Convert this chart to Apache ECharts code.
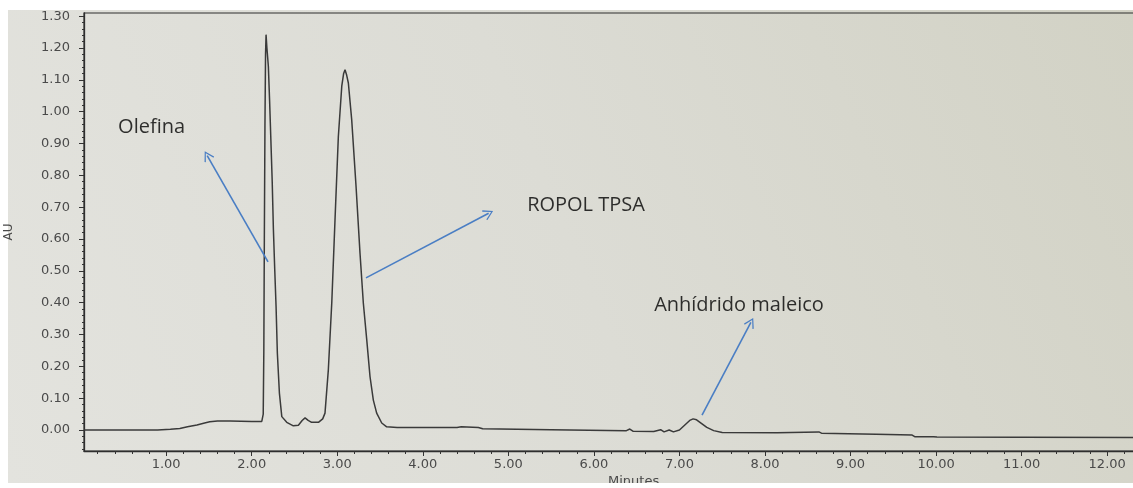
<!DOCTYPE html>
<html>
<head>
<meta charset="utf-8">
<script src="https://cdn.jsdelivr.net/npm/echarts@6/dist/echarts.min.js"></script>
<style>
  html, body { margin: 0; padding: 0; background: #fff; }
  #chart { width: 1133px; height: 488px; }
</style>
</head>
<body>
<div id="chart"></div>
<script>
// retention time (min) and detector response (AU)
const timeMin = [
  0.04, 0.6, 0.9, 1.05, 1.16, 1.25, 1.36, 1.45, 1.51, 1.6, 1.75, 2.0, 2.118,
  2.135, 2.142, 2.148, 2.155, 2.162, 2.168, 2.178, 2.195, 2.21, 2.223, 2.24,
  2.254, 2.27, 2.285, 2.30, 2.324, 2.352, 2.41, 2.487, 2.546, 2.59, 2.624,
  2.66, 2.70, 2.78, 2.83, 2.857, 2.896, 2.936, 2.974, 3.013, 3.053, 3.075,
  3.091, 3.11, 3.13, 3.169, 3.22, 3.266, 3.305, 3.345, 3.383, 3.422, 3.461,
  3.52, 3.578, 3.7, 4.4, 4.45, 4.65, 4.7, 5.5, 6.38, 6.42, 6.46, 6.7, 6.78,
  6.82, 6.88, 6.93, 7.0, 7.06, 7.12, 7.16, 7.2, 7.26, 7.32, 7.4, 7.5, 8.14,
  8.16, 8.63, 8.66, 9.3, 9.72, 9.75, 9.97, 9.99, 10.01, 11.0, 12.36
];
const absorbance = [
  0.000, 0.000, 0.000, 0.002, 0.005, 0.010, 0.016, 0.022, 0.026, 0.028, 0.028, 0.027, 0.027,
  0.050, 0.250, 0.600, 0.950, 1.180, 1.242, 1.200, 1.142, 1.030, 0.922, 0.780,
  0.629, 0.500, 0.388, 0.242, 0.116, 0.042, 0.024, 0.013, 0.015, 0.030, 0.038,
  0.030, 0.024, 0.024, 0.035, 0.053, 0.189, 0.399, 0.660, 0.922, 1.080, 1.120,
  1.132, 1.115, 1.090, 0.975, 0.765, 0.556, 0.399, 0.283, 0.168, 0.094, 0.053,
  0.022, 0.010, 0.008, 0.008, 0.010, 0.008, 0.004, 0.001, -0.002, 0.003, -0.004, -0.005, 0.001,
  -0.006, 0.000, -0.006, 0.000, 0.015, 0.030, 0.035, 0.032, 0.020, 0.008, -0.002, -0.008, -0.009,
  -0.005, -0.006, -0.010, -0.013, -0.016, -0.021, -0.021, -0.015, -0.022, -0.023, -0.024
];

// axis ticks
const xTicks = [1, 2, 3, 4, 5, 6, 7, 8, 9, 10, 11, 12];
const yTicks = [0, 0.1, 0.2, 0.3, 0.4, 0.5, 0.6, 0.7, 0.8, 0.9, 1.0, 1.1, 1.2, 1.3];

// peak annotations: label, text position, arrow start, arrow tip
const noteNames = ['Olefina', 'ROPOL TPSA', 'Anhídrido maleico'];
const notePos = [[0.83, 0.952], [5.908, 0.705], [7.696, 0.391]];
const arrowFrom = [[2.191, 0.528], [3.336, 0.478], [7.264, 0.047]];
const arrowTo = [[1.48, 0.862], [4.77, 0.681], [7.835, 0.338]];

const xMin = 0.04, xMax = 12.36;
const yMin = -0.066, yMax = 1.31;

const xMinor = [];
for (let i = 1; i <= 61; i++) xMinor.push(+(i * 0.2).toFixed(1));
const yMinor = [];
for (let i = -3; i <= 65; i++) yMinor.push(+(i * 0.02).toFixed(2));

const chart = echarts.init(document.getElementById('chart'));

const labelFont = { color: '#4a4a4a', fontSize: 13, fontFamily: 'DejaVu Sans' };
const arrowHead = 'path://M0,10 L5,0 L10,10 L9,10.8 L5,2.4 L1,10.8 Z';

const option = {
  animation: false,
  backgroundColor: '#ffffff',
  graphic: [
    {
      type: 'rect', z: -10, silent: true,
      shape: { x: 8, y: 10, width: 1125, height: 473 },
      style: {
        fill: new echarts.graphic.LinearGradient(0, 1, 1, 0, [
          { offset: 0, color: '#e3e3de' },
          { offset: 0.5, color: '#dcdcd5' },
          { offset: 1, color: '#d2d2c5' }
        ])
      }
    },
    {
      type: 'text', z: 50, left: 608, top: 475,
      style: { text: 'Minutes', fill: '#4a4a4a', fontSize: 13, fontFamily: 'DejaVu Sans' }
    },
    {
      type: 'rect', z: 100, silent: true,
      shape: { x: 0, y: 483, width: 1133, height: 5 },
      style: { fill: '#ffffff' }
    }
  ],
  grid: {
    left: 84, right: -5, top: 13, bottom: 37,
    outerBoundsMode: 'none',
    show: true, borderColor: '#2e2e2e', borderWidth: 1.2,
    backgroundColor: 'transparent'
  },
  xAxis: [
    {
      type: 'value', min: xMin, max: xMax, position: 'bottom',
      axisLine: { show: true, onZero: false, lineStyle: { color: '#2e2e2e', width: 1.3 } },
      axisTick: { show: true, customValues: xTicks, length: 5, lineStyle: { color: '#333' } },
      axisLabel: {
        customValues: xTicks, margin: 7,
        formatter: v => v.toFixed(2), ...labelFont
      },
      splitLine: { show: false }
    },
    {
      type: 'value', min: xMin, max: xMax, position: 'bottom',
      axisLine: { show: false, onZero: false },
      axisTick: { show: true, customValues: xMinor, length: 3, lineStyle: { color: '#333' } },
      axisLabel: { show: false },
      splitLine: { show: false }
    }
  ],
  yAxis: [
    {
      type: 'value', min: yMin, max: yMax, position: 'left',
      name: 'AU', nameLocation: 'middle', nameGap: 69,
      nameTextStyle: { color: '#4a4a4a', fontSize: 12, fontFamily: 'DejaVu Sans' },
      axisLine: { show: true, onZero: false, lineStyle: { color: '#2e2e2e', width: 1.3 } },
      axisTick: { show: true, customValues: yTicks, length: 5, lineStyle: { color: '#333' } },
      axisLabel: {
        customValues: yTicks, margin: 14,
        formatter: v => v.toFixed(2), ...labelFont
      },
      splitLine: { show: false }
    },
    {
      type: 'value', min: yMin, max: yMax, position: 'left',
      axisLine: { show: false, onZero: false },
      axisTick: { show: true, customValues: yMinor, length: 2, lineStyle: { color: '#333' } },
      axisLabel: { show: false },
      splitLine: { show: false }
    }
  ],
  series: [
    {
      name: 'AU',
      type: 'line',
      data: timeMin.map((t, i) => [t, absorbance[i]]),
      showSymbol: false,
      lineStyle: { color: '#3a3a3a', width: 1.5 },
      silent: true,
      markLine: {
        silent: true,
        symbol: ['none', arrowHead],
        symbolSize: [11, 10],
        label: { show: false },
        lineStyle: { color: '#4a7ec4', width: 1.6, type: 'solid' },
        data: arrowFrom.map((p, i) => [{ coord: p }, { coord: arrowTo[i] }])
      }
    },
    {
      name: 'notes',
      type: 'scatter',
      symbolSize: 0,
      silent: true,
      data: noteNames.map((n, i) => [notePos[i][0], notePos[i][1], n]),
      label: {
        show: true, position: 'inside',
        formatter: p => p.data[2],
        color: '#000', fontSize: 20, fontFamily: 'Open Sans'
      }
    }
  ]
};

chart.setOption(option);
</script>
</body>
</html>
